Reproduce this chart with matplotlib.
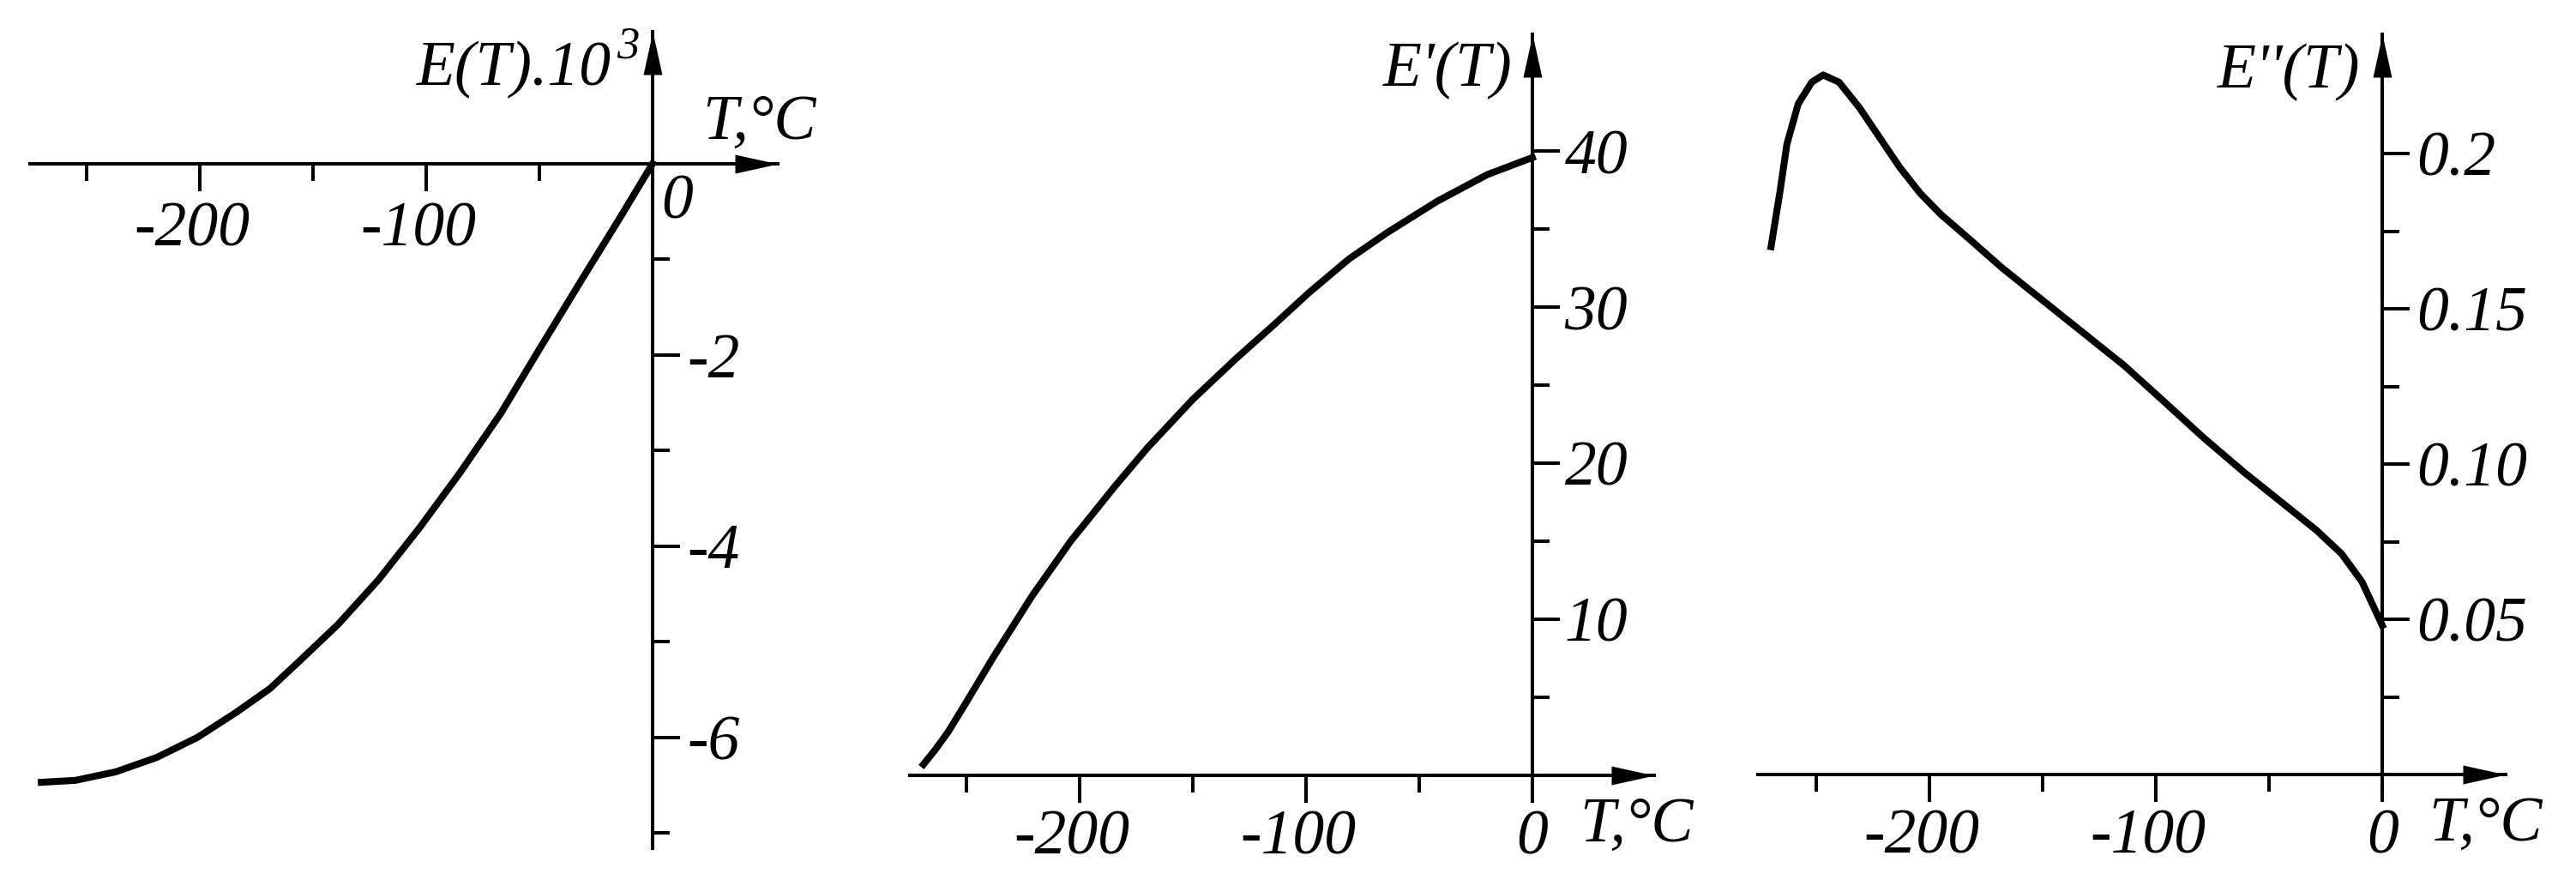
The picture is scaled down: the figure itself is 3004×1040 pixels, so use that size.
import numpy as np
import matplotlib
matplotlib.use('Agg')
from matplotlib import pyplot as plt
from matplotlib.path import Path
from matplotlib.transforms import ScaledTranslation

plt.rcParams['font.family'] = ['Liberation Serif', 'DejaVu Serif']
plt.rcParams['font.style'] = 'italic'

# E(T)*10^3 vs T
t1 = [-270, -255, -237, -219, -201, -184, -169, -155, -139, -121, -103, -85,
      -67, -50, -32, -14, 0]
e1 = [-6.47, -6.45, -6.36, -6.21, -6.00, -5.74, -5.49, -5.18, -4.82, -4.35,
      -3.81, -3.23, -2.61, -1.94, -1.24, -0.55, 0.0]

# E'(T) vs T
t2 = [-269, -264, -258, -250, -238, -221, -204, -184, -170, -150, -131, -114,
      -99, -81, -64, -42, -20, 0]
e2 = [0.7, 1.6, 2.8, 4.7, 7.6, 11.5, 15.0, 18.6, 21.0, 24.1, 26.7, 28.9,
      30.9, 33.1, 34.8, 36.8, 38.5, 39.6]

# E''(T) vs T
t3 = [-270, -266, -263, -258, -252, -247, -240, -231, -222, -213, -204, -195,
      -182, -168, -150, -132, -114, -97, -79, -61, -43, -29, -18, -9, 0]
e3 = [0.170, 0.188, 0.203, 0.216, 0.223, 0.2253, 0.223, 0.2148, 0.2051, 0.1954,
      0.1871, 0.1804, 0.1722, 0.1632, 0.1527, 0.1422, 0.1317, 0.1205, 0.1085,
      0.0973, 0.0868, 0.0786, 0.0711, 0.0621, 0.048]

W, H = 3004, 1040
FS = 53
LW_AX = 2.9
LW_CURVE = 5.8

arrow_r = Path([(0, 0), (-1, 0.22), (-1, -0.22), (0, 0)],
               [Path.MOVETO, Path.LINETO, Path.LINETO, Path.CLOSEPOLY])
arrow_u = Path([(0, 0), (0.22, -1), (-0.22, -1), (0, 0)],
               [Path.MOVETO, Path.LINETO, Path.LINETO, Path.CLOSEPOLY])


def make_axes(fig, left, right, top, bottom):
    # pixel box -> figure fraction
    return fig.add_axes([left / W, 1 - bottom / H, (right - left) / W, (bottom - top) / H])


def style(ax, xpad, ypad):
    ax.patch.set_visible(False)
    for s in ['top', 'left']:
        ax.spines[s].set_visible(False)
    ax.spines['bottom'].set_position(('data', 0))
    ax.spines['right'].set_position(('data', 0))
    ax.spines['bottom'].set_linewidth(LW_AX)
    ax.spines['right'].set_linewidth(LW_AX)
    ax.xaxis.set_ticks_position('bottom')
    ax.yaxis.set_ticks_position('right')
    ax.tick_params(which='major', direction='out', length=23, width=LW_AX, labelsize=FS)
    ax.tick_params(which='minor', direction='out', length=14.5, width=LW_AX)
    ax.tick_params(axis='x', pad=xpad)
    ax.tick_params(axis='y', pad=ypad)
    ax.plot(1, 0, marker=arrow_r, ms=72, color='k', mew=0,
            transform=ax.get_yaxis_transform(), clip_on=False)
    ax.plot(0, 1, marker=arrow_u, ms=72, color='k', mew=0,
            transform=ax.get_xaxis_transform(), clip_on=False)
    # negative labels sit a little left of their ticks
    for lab in ax.get_xticklabels():
        if lab.get_text().startswith('-'):
            lab.set_transform(lab.get_transform() +
                              ScaledTranslation(-0.09, 0, fig.dpi_scale_trans))


fig = plt.figure(figsize=(W / 100, H / 100), dpi=100)

# panel 1
ax1 = make_axes(fig, 35, 907, 37, 989)
ax1.plot(t1, e1, color='k', lw=LW_CURVE, solid_joinstyle='round')
ax1.set_xlim(-275.0, 55.3)
ax1.set_ylim(-7.16, 1.38)
ax1.set_xticks([-200, -100, 0], ['-200', '-100', ''])
ax1.set_xticks([-250, -150, -50], minor=True)
ax1.set_yticks([-2, -4, -6], ['-2', '-4', '-6'])
ax1.set_yticks([-1, -3, -5, -7], minor=True)
style(ax1, 9, 6)
ax1.text(-18.2, 0.82, 'E(T).10', fontsize=FS, ha='right', va='baseline')
ax1.text(-16.0, 1.11, '3', fontsize=38, ha='left', va='baseline')
ax1.text(22, 0.26, 'T,°C', fontsize=FS, ha='left', va='baseline')
ax1.text(4, -0.11, '0', fontsize=FS, ha='left', va='top')

# panel 2
ax2 = make_axes(fig, 1061, 1929, 40, 904)
ax2.plot(t2, e2, color='k', lw=LW_CURVE, solid_joinstyle='round')
ax2.set_xlim(-275.0, 53.8)
ax2.set_ylim(0, 47.5)
ax2.set_xticks([-200, -100, 0], ['-200', '-100', '0'])
ax2.set_xticks([-250, -150, -50], minor=True)
ax2.set_yticks([10, 20, 30, 40], ['10', '20', '30', '40'])
ax2.set_yticks([5, 15, 25, 35], minor=True)
style(ax2, 6, 4)
ax2.text(-9, 44.2, "E'(T)", fontsize=FS, ha='right', va='baseline')
ax2.text(20.8, -4.23, 'T,°C', fontsize=FS, ha='left', va='baseline')

# panel 3
ax3 = make_axes(fig, 2050, 2922, 40, 903)
ax3.plot(t3, e3, color='k', lw=LW_CURVE, solid_joinstyle='round')
ax3.set_xlim(-275.8, 54.5)
ax3.set_ylim(0, 0.2384)
ax3.set_xticks([-200, -100, 0], ['-200', '-100', '0'])
ax3.set_xticks([-250, -150, -50], minor=True)
ax3.set_yticks([0.05, 0.10, 0.15, 0.2], ['0.05', '0.10', '0.15', '0.2'])
ax3.set_yticks([0.025, 0.075, 0.125, 0.175], minor=True)
style(ax3, 6, 6)
ax3.text(-9.8, 0.2212, "E''(T)", fontsize=FS, ha='right', va='baseline')
ax3.text(20.5, -0.0212, 'T,°C', fontsize=FS, ha='left', va='baseline')

fig.savefig('out.png', dpi=100)
